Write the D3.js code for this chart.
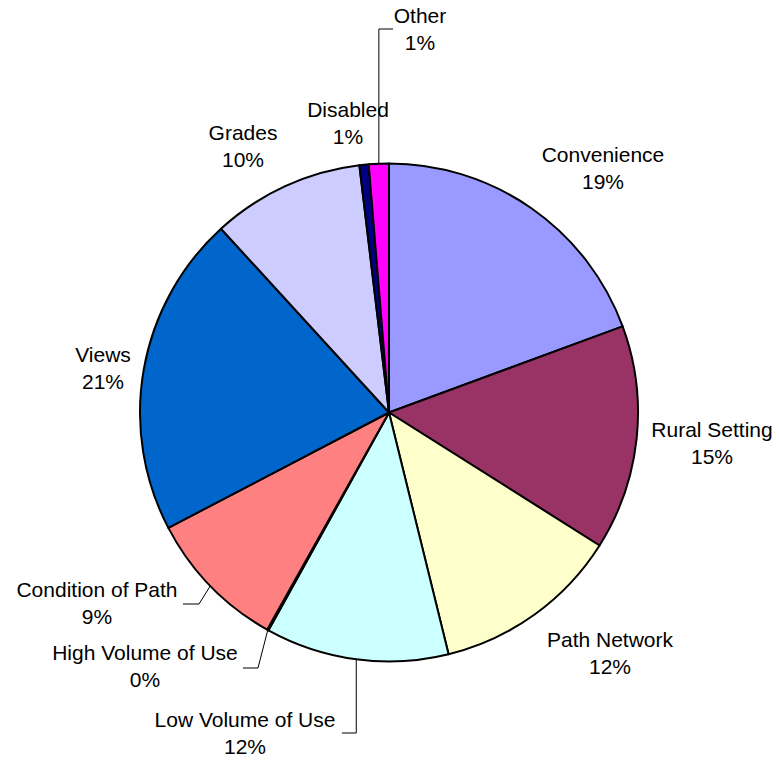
<!DOCTYPE html>
<html>
<head>
<meta charset="utf-8">
<script src="https://cdn.jsdelivr.net/npm/d3@7"></script>
<style>
  html, body { margin: 0; padding: 0; background: #fff; }
  svg { display: block; }
  text { font-family: "Liberation Sans", Arial, sans-serif; font-size: 21px; fill: #000; }
</style>
</head>
<body>
<svg id="chart" width="779" height="761"></svg>
<script>
// ---- data ----
const categories = ["Convenience", "Rural Setting", "Path Network", "Low Volume of Use",
  "High Volume of Use", "Condition of Path", "Views", "Grades", "Disabled", "Other"];
const values = [19.4, 14.6, 12.2, 11.9, 0.1, 9.2, 20.9, 9.9, 0.6, 1.3];
const colors = ["#9999FF", "#993366", "#FFFFCC", "#CCFFFF", "#660066",
  "#FF8080", "#0066CC", "#CCCCFF", "#000080", "#FF00FF"];

// ---- layout (label anchor: text centre x, first baseline y; optional leader elbow points) ----
const labelLayout = {
  "Convenience":        { x: 603, y: 162 },
  "Rural Setting":      { x: 712, y: 437 },
  "Path Network":       { x: 610, y: 647 },
  "Low Volume of Use":  { x: 245, y: 727, leader: [[null, 733], [342, 733]] },
  "High Volume of Use": { x: 145, y: 660, leader: [[258, 668], [243, 668]] },
  "Condition of Path":  { x: 97,  y: 597, leader: [[199, 604], [183, 604]] },
  "Views":              { x: 103, y: 362 },
  "Grades":             { x: 243, y: 140 },
  "Disabled":           { x: 348, y: 117 },
  "Other":              { x: 420, y: 23, leader: [[null, 29], [393, 29]] }
};

const cx = 389, cy = 412.5, R = 249, lineGap = 27;
const svg = d3.select("#chart");
const g = svg.append("g").attr("transform", `translate(${cx},${cy})`);

const data = categories.map((c, i) => ({ name: c, value: values[i], color: colors[i] }));
const total = d3.sum(values);
const pie = d3.pie().value(d => d.value).sort(null).startAngle(0).endAngle(2 * Math.PI);
const arcs = pie(data);
const arc = d3.arc().innerRadius(0).outerRadius(R);

g.selectAll("path.slice")
  .data(arcs)
  .join("path")
  .attr("class", "slice")
  .attr("d", arc)
  .attr("fill", d => d.data.color)
  .attr("stroke", "#000")
  .attr("stroke-width", 2)
  .attr("stroke-linejoin", "round");

// leader lines
arcs.forEach(a => {
  const L = labelLayout[a.data.name];
  if (!L.leader) return;
  const mid = (a.startAngle + a.endAngle) / 2;
  const px = cx + R * Math.sin(mid), py = cy - R * Math.cos(mid);
  const pts = [[px, py]].concat(L.leader.map(p => [p[0] === null ? px : p[0], p[1]]));
  svg.append("path")
    .attr("d", d3.line()(pts))
    .attr("fill", "none")
    .attr("stroke", "#000")
    .attr("stroke-width", 1);
});

// labels
arcs.forEach(a => {
  const L = labelLayout[a.data.name];
  const pct = Math.round(a.data.value / total * 100) + "%";
  const t = svg.append("text").attr("text-anchor", "middle");
  t.append("tspan").attr("x", L.x).attr("y", L.y).text(a.data.name);
  t.append("tspan").attr("x", L.x).attr("y", L.y + lineGap).text(pct);
});
</script>
</body>
</html>
